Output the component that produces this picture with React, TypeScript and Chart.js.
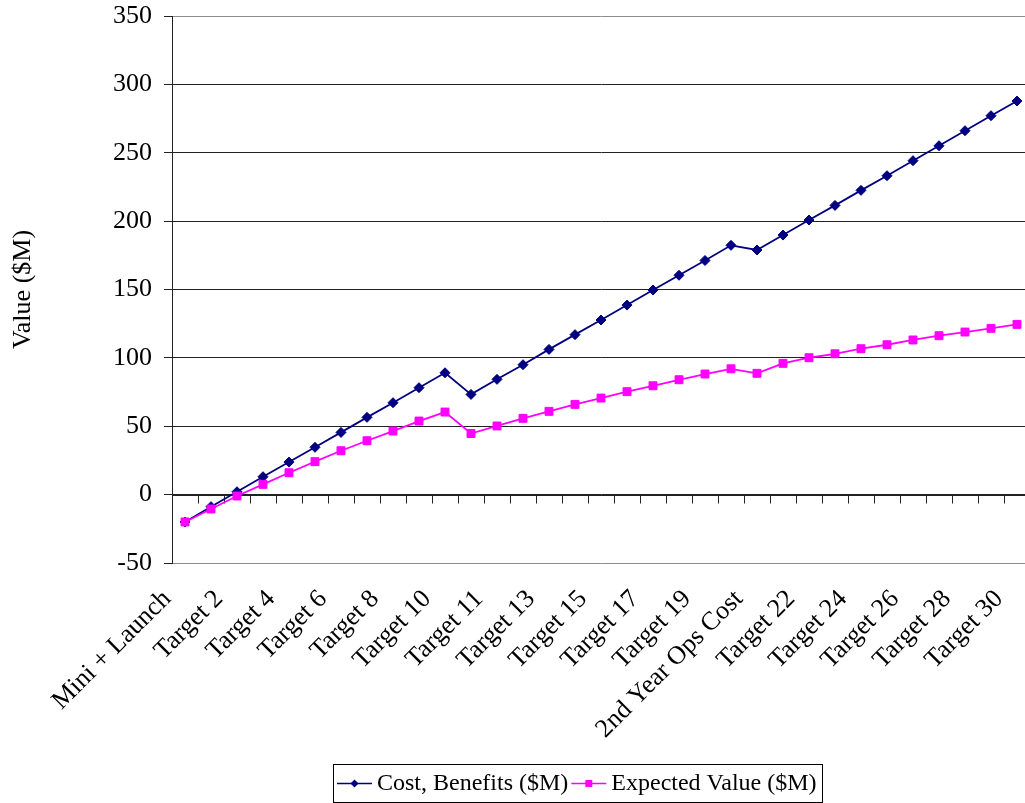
import React, { useEffect, useRef } from "react";
import { Chart, registerables } from "chart.js";

Chart.register(...registerables);

const categories: string[] = [
  "Mini + Launch",
  "Target 1", "Target 2", "Target 3", "Target 4", "Target 5",
  "Target 6", "Target 7", "Target 8", "Target 9", "Target 10",
  "1st Year Ops Cost",
  "Target 11", "Target 12", "Target 13", "Target 14", "Target 15",
  "Target 16", "Target 17", "Target 18", "Target 19", "Target 20",
  "2nd Year Ops Cost",
  "Target 21", "Target 22", "Target 23", "Target 24", "Target 25",
  "Target 26", "Target 27", "Target 28", "Target 29", "Target 30",
];

const costBenefits: number[] = [
  -20, -8.8, 2.1, 13.1, 23.8, 34.6, 45.5, 56.5, 67.2, 78.2, 89.1,
  73.3, 84.3, 95.0, 106.2, 117.0, 127.7, 138.6, 149.6, 160.4, 171.2,
  182.3, 178.9, 189.8, 200.8, 211.5, 222.5, 233.2, 244.2, 255.1, 266.1,
  277.1, 287.8,
];

const expectedValue: number[] = [
  -20, -10.5, -1, 7.5, 16, 24.1, 32.1, 39.4, 46.5, 53.8, 60.4,
  44.7, 50.2, 55.8, 60.9, 66, 70.6, 75.3, 79.6, 84, 88.2,
  92, 88.7, 96, 100.1, 103, 106.7, 109.6, 113.1, 116.2, 118.9,
  121.6, 124.5,
];

const seriesNames: string[] = ["Cost, Benefits ($M)", "Expected Value ($M)"];
const yMin = -50;
const yMax = 350;
const yStep = 50;
const yTitle = "Value ($M)";

const FONT = '"Liberation Serif", "Times New Roman", serif';
const BLUE = "#000080";
const PINK = "#FF00FF";
const GRID = "#222";

const zeroAxisPlugin = {
  id: "zeroAxis",
  beforeDatasetsDraw(chart: any) {
    const { ctx, chartArea } = chart;
    const xs = chart.scales.x;
    const ys = chart.scales.y;
    const y0 = Math.round(ys.getPixelForValue(0)) + 0.5;
    const half = (xs.getPixelForValue(1) - xs.getPixelForValue(0)) / 2;
    ctx.save();
    ctx.strokeStyle = GRID;
    ctx.lineWidth = 1;
    ctx.beginPath();
    ctx.moveTo(chartArea.left, y0);
    ctx.lineTo(chartArea.right, y0);
    for (let i = 0; i <= categories.length; i++) {
      const x = Math.round(xs.getPixelForValue(i) - half) + 0.5;
      ctx.moveTo(x, y0);
      ctx.lineTo(x, y0 + 8);
    }
    ctx.stroke();
    ctx.restore();
  },
};

const boxLegendPlugin = {
  id: "boxLegend",
  afterDraw(chart: any) {
    const { ctx } = chart;
    const ds = chart.data.datasets;
    ctx.save();
    ctx.font = `24px ${FONT}`;
    const sample = 35;
    const widths = ds.map((d: any) => ctx.measureText(d.label).width);
    let total = 4;
    widths.forEach((w: number, i: number) => {
      total += sample + 5 + w + (i < widths.length - 1 ? 3 : 5);
    });
    const cx = 577;
    const top = 764;
    const h = 38;
    const left = Math.round(cx - total / 2);
    ctx.strokeStyle = "#000";
    ctx.lineWidth = 1;
    ctx.strokeRect(left + 0.5, top + 0.5, Math.round(total), h);
    const cy = top + h / 2 + 0.5;
    let x = left + 4;
    ds.forEach((d: any, i: number) => {
      ctx.strokeStyle = d.borderColor;
      ctx.lineWidth = 1.5;
      ctx.beginPath();
      ctx.moveTo(x, cy);
      ctx.lineTo(x + sample, cy);
      ctx.stroke();
      ctx.fillStyle = d.pointBackgroundColor;
      const mx = x + sample / 2;
      ctx.beginPath();
      if (d.pointStyle === "rectRot") {
        const r = 4;
        ctx.moveTo(mx - r, cy);
        ctx.lineTo(mx, cy - r);
        ctx.lineTo(mx + r, cy);
        ctx.lineTo(mx, cy + r);
        ctx.closePath();
      } else {
        ctx.rect(mx - 3.5, cy - 3.5, 7, 7);
      }
      ctx.fill();
      ctx.fillStyle = "#000";
      ctx.textBaseline = "middle";
      ctx.textAlign = "left";
      ctx.fillText(d.label, x + sample + 5, cy);
      x += sample + 5 + widths[i] + 3;
    });
    ctx.restore();
  },
};

export default function App() {
  const canvasRef = useRef<HTMLCanvasElement | null>(null);

  useEffect(() => {
    const canvas = canvasRef.current;
    if (!canvas) return;
    const chart = new Chart(canvas, {
      type: "line",
      data: {
        labels: categories,
        datasets: [
          {
            label: seriesNames[0],
            data: costBenefits,
            borderColor: BLUE,
            backgroundColor: BLUE,
            pointBackgroundColor: BLUE,
            pointBorderColor: BLUE,
            pointStyle: "rectRot",
            pointRadius: 5,
            pointBorderWidth: 1,
            borderWidth: 1.8,
            tension: 0,
            order: 1,
          },
          {
            label: seriesNames[1],
            data: expectedValue,
            borderColor: PINK,
            backgroundColor: PINK,
            pointBackgroundColor: PINK,
            pointBorderColor: PINK,
            pointStyle: "rect",
            pointRadius: 5.6,
            pointBorderWidth: 1,
            borderWidth: 1.8,
            tension: 0,
            order: 0,
          },
        ],
      },
      options: {
        responsive: false,
        animation: false,
        devicePixelRatio: 1,
        layout: { autoPadding: false, padding: { top: 16, left: 0, right: 0, bottom: 45 } },
        plugins: {
          legend: { display: false },
          tooltip: { enabled: false },
          title: { display: false },
        },
        scales: {
          x: {
            type: "category",
            offset: true,
            grid: { display: false, drawTicks: false, offset: true },
            border: { display: false },
            ticks: {
              autoSkip: false,
              maxRotation: 45,
              minRotation: 45,
              padding: 21,
              labelOffset: -18,
              color: "#000",
              font: { family: FONT, size: 26 },
              callback: (_v: any, i: number) => (i % 2 === 0 ? categories[i] : ""),
            },
            afterFit: (s: any) => {
              s.height = 803 - 563 - 45;
              s.paddingLeft = 0;
              s.paddingRight = 0;
            },
          },
          y: {
            min: yMin,
            max: yMax,
            ticks: {
              stepSize: yStep,
              color: "#000",
              padding: 12,
              font: { family: FONT, size: 26 },
            },
            grid: {
              color: (c: any) =>
                c.tick && (c.tick.value === yMin || c.tick.value === yMax) ? "#8c8c8c" : GRID,
              tickColor: GRID,
              tickLength: 8,
              lineWidth: 1,
            },
            border: { display: true, color: GRID, width: 1 },
            title: {
              display: true,
              text: yTitle,
              color: "#000",
              font: { family: FONT, size: 26 },
              padding: { top: 8, bottom: 0 },
            },
            afterFit: (s: any) => {
              s.width = 172;
              s.paddingTop = 0;
              s.paddingBottom = 0;
            },
          },
        },
      },
      plugins: [zeroAxisPlugin, boxLegendPlugin],
    });
    return () => chart.destroy();
  }, []);

  return (
    <div
      style={{
        position: "fixed",
        left: 0,
        top: 0,
        width: 1025,
        height: 803,
        overflow: "hidden",
        background: "#fff",
      }}
    >
      <canvas ref={canvasRef} width={1030} height={803} style={{ display: "block" }} />
    </div>
  );
}
